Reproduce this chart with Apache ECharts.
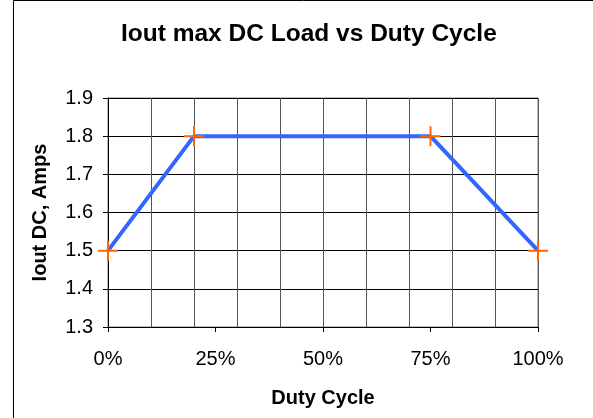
<!DOCTYPE html>
<html>
<head>
<meta charset="utf-8">
<script src="https://cdn.jsdelivr.net/npm/echarts@6/dist/echarts.min.js"></script>
<style>html,body{margin:0;padding:0;background:#fff;}#c{width:593px;height:418px;}</style>
</head>
<body>
<div id="c"></div>
<script>
const titleText = 'Iout max DC Load vs Duty Cycle';
const xName = 'Duty Cycle';
const yName = 'Iout DC, Amps';
const dutyCycle = [0, 20, 75, 100];
const ioutDC = [1.5, 1.8, 1.8, 1.5];
const yTicks = [1.3, 1.4, 1.5, 1.6, 1.7, 1.8, 1.9];
const xLabelTicks = [0, 25, 50, 75, 100];

const chart = echarts.init(document.getElementById('c'), null, {renderer: 'canvas'});
const font = 'Liberation Sans, Arial, sans-serif';
const plusPath = 'path://M0,9 H20 V11 H0 Z M9,0 H11 V20 H9 Z';

chart.setOption({
  animation: false,
  backgroundColor: '#fff',
  graphic: [{
    type: 'rect', shape: {x: 13.5, y: 0.5, width: 700, height: 700},
    style: {fill: 'none', stroke: '#000', lineWidth: 1}, silent: true, z: 100
  }],
  title: {
    text: titleText, left: 116, top: 17,
    textStyle: {fontFamily: font, fontWeight: 'bold', fontSize: 24.5, color: '#000'}
  },
  grid: {left: 108, right: 55, top: 98, bottom: 91, show: true, borderColor: '#808080', borderWidth: 1, backgroundColor: 'transparent'},
  xAxis: [{
    type: 'value', min: 0, max: 100, interval: 10,
    axisLine: {show: false}, axisTick: {show: false}, axisLabel: {show: false},
    splitLine: {show: true, lineStyle: {color: '#555', width: 1}}
  }, {
    type: 'value', min: xLabelTicks[0], max: xLabelTicks[xLabelTicks.length - 1], interval: 25,
    position: 'bottom',
    name: xName, nameLocation: 'middle', nameGap: 61,
    nameTextStyle: {fontFamily: font, fontWeight: 'bold', fontSize: 20, color: '#000'},
    axisLine: {show: true, onZero: false, lineStyle: {color: '#000', width: 1}},
    axisTick: {show: true, inside: false, length: 5, lineStyle: {color: '#000'}},
    axisLabel: {fontFamily: font, fontSize: 20, color: '#000', margin: 22, formatter: v => v + '%'},
    splitLine: {show: false}
  }],
  yAxis: {
    type: 'value', min: yTicks[0], max: yTicks[yTicks.length - 1], interval: 0.1,
    name: yName, nameLocation: 'middle', nameGap: 58, nameRotate: 90,
    nameTextStyle: {fontFamily: font, fontWeight: 'bold', fontSize: 20, color: '#000'},
    axisLine: {show: true, lineStyle: {color: '#000', width: 1}},
    axisTick: {show: true, inside: false, length: 5, lineStyle: {color: '#000'}},
    axisLabel: {fontFamily: font, fontSize: 20, color: '#000', margin: 15, formatter: v => v.toFixed(1)},
    splitLine: {show: true, lineStyle: {color: '#000', width: 1}}
  },
  series: [{
    type: 'line', xAxisIndex: 1,
    data: dutyCycle.map((d, i) => [d, ioutDC[i]]),
    lineStyle: {color: '#3366FF', width: 4},
    symbol: plusPath, symbolSize: 20, showAllSymbol: true, clip: false,
    itemStyle: {color: '#FF6600', borderWidth: 0},
    emphasis: {disabled: true}
  }]
});
</script>
</body>
</html>
